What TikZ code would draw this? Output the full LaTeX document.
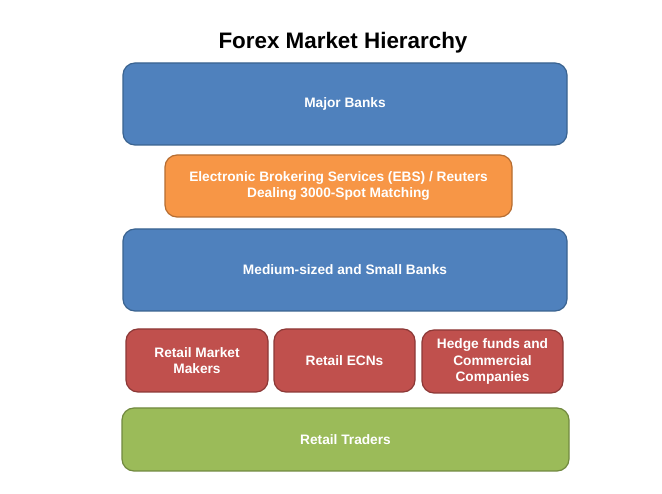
\documentclass[tikz,border=0pt]{standalone}
\usepackage{fontspec}
\setmainfont{Liberation Sans}
\definecolor{bluefill}{HTML}{4F81BD}
\definecolor{blueline}{HTML}{3A6390}
\definecolor{orfill}{HTML}{F79646}
\definecolor{orline}{HTML}{B66D31}
\definecolor{redfill}{HTML}{C0504D}
\definecolor{redline}{HTML}{8C3836}
\definecolor{grfill}{HTML}{9BBB59}
\definecolor{grline}{HTML}{71893F}
\begin{document}
\begin{tikzpicture}[x=1pt,y=-1pt,
  tier/.style={draw, line width=1.2pt, rounded corners=12pt, inner sep=0pt,
    text=white, font=\bfseries\fontsize{13.7}{16.2}\selectfont, align=center},
  bluebox/.style={tier, fill=bluefill, draw=blueline},
  orbox/.style={tier, fill=orfill, draw=orline},
  redbox/.style={tier, fill=redfill, draw=redline},
  grbox/.style={tier, fill=grfill, draw=grline}]
\useasboundingbox[fill=white] (0,0) rectangle (662,494);
\node[font=\bfseries\fontsize{22.4}{26}\selectfont] (title) at (343,43) {Forex Market Hierarchy};
\node[bluebox, minimum width=444pt, minimum height=82pt] (major) at (345,104) {Major Banks};
\node[orbox, minimum width=347pt, minimum height=62pt] (ebs) at (338.5,186) {Electronic Brokering Services (EBS) / Reuters\\Dealing 3000-Spot Matching};
\node[bluebox, minimum width=444pt, minimum height=82pt] (medium) at (345,270) {Medium-sized and Small Banks};
\node[redbox, minimum width=142pt, minimum height=63pt] (rmm) at (197,360.5) {Retail Market\\Makers};
\node[redbox, minimum width=141pt, minimum height=63pt] (recn) at (344.5,360.5) {Retail ECNs};
\node[redbox, minimum width=141pt, minimum height=63pt] (hedge) at (492.5,361.5) {Hedge funds and\\Commercial\\Companies};
\node[grbox, minimum width=447pt, minimum height=63pt] (traders) at (345.5,439.5) {Retail Traders};
\end{tikzpicture}
\end{document}
